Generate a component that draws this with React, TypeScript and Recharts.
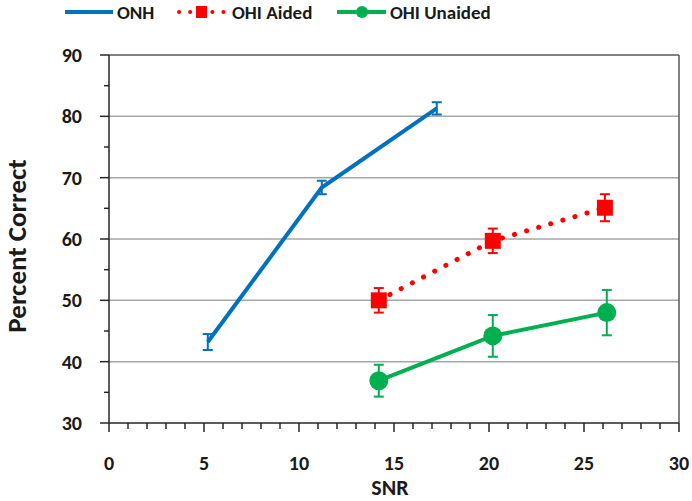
import React from 'react';
import { LineChart, Line, XAxis, YAxis, ErrorBar, ReferenceLine, Legend } from 'recharts';

const onhSnr = [5.2, 11.2, 17.25];
const onhPct = [43.2, 68.4, 81.3];
const onhErr = [1.3, 1.1, 1.0];

const aidedSnr = [14.2, 20.2, 26.1];
const aidedPct = [50.0, 59.7, 65.1];
const aidedErr = [2.0, 2.0, 2.2];

const unaidedSnr = [14.2, 20.2, 26.2];
const unaidedPct = [36.9, 44.2, 48.0];
const unaidedErr = [2.6, 3.4, 3.7];

const xTicks = [0, 1, 2, 3, 4, 5, 6, 7, 8, 9, 10, 11, 12, 13, 14, 15, 16, 17, 18, 19, 20, 21, 22, 23, 24, 25, 26, 27, 28, 29, 30];
const yTicks = [30, 35, 40, 45, 50, 55, 60, 65, 70, 75, 80, 85, 90];
const gridValues = [40, 50, 60, 70, 80];

const seriesNames = ['ONH', 'OHI Aided', 'OHI Unaided'];

const build = (xs: number[], ys: number[], es: number[]) =>
  xs.map((x, i) => ({ x, y: ys[i], err: es[i] }));

const onhData = build(onhSnr, onhPct, onhErr);
const aidedData = build(aidedSnr, aidedPct, aidedErr);
const unaidedData = build(unaidedSnr, unaidedPct, unaidedErr);

const FONT = 'Carlito, Calibri, Lato, sans-serif';
const BLUE = '#0070C0';
const RED = '#FF0000';
const GREEN = '#00B050';
const AXIS = '#262626';

const XTick = (props: any) => {
  const { x, y, payload } = props;
  const v = payload.value;
  const major = v % 5 === 0;
  return (
    <g>
      <line x1={x} y1={y} x2={x} y2={y + (major ? 9 : 6)} stroke={AXIS} strokeWidth={1.5} />
      {major && (
        <text x={x} y={y + 47} textAnchor="middle" fontFamily={FONT} fontWeight="bold" fontSize={20} fill="#1a1a1a">
          {v}
        </text>
      )}
    </g>
  );
};

const YTick = (props: any) => {
  const { x, y, payload } = props;
  const v = payload.value;
  const major = v % 10 === 0;
  return (
    <g>
      <line x1={x - (major ? 9 : 5)} y1={y} x2={x} y2={y} stroke={AXIS} strokeWidth={1.5} />
      {major && (
        <text x={x - 27} y={y + 7} textAnchor="end" fontFamily={FONT} fontWeight="bold" fontSize={20} fill="#1a1a1a">
          {v}
        </text>
      )}
    </g>
  );
};

const SquareDot = (props: any) => {
  const { cx, cy } = props;
  if (cx == null || cy == null) return null;
  return <rect x={cx - 8} y={cy - 8} width={16} height={16} fill={RED} />;
};

const CircleDot = (props: any) => {
  const { cx, cy } = props;
  if (cx == null || cy == null) return null;
  return <circle cx={cx} cy={cy} r={9.5} fill={GREEN} />;
};

const renderLegend = () => (
  <svg width={692} height={26} style={{ display: 'block' }}>
    <line x1={65} y1={12} x2={113} y2={12} stroke={BLUE} strokeWidth={4} />
    <text x={117} y={19} fontFamily={FONT} fontWeight="bold" fontSize={19} fill="#1a1a1a">{seriesNames[0]}</text>
    <line x1={179} y1={12} x2={225} y2={12} stroke={RED} strokeWidth={4} strokeDasharray="0.1 11" strokeLinecap="round" />
    <rect x={196} y={6} width={11} height={12} fill={RED} />
    <text x={232} y={19} fontFamily={FONT} fontWeight="bold" fontSize={19} fill="#1a1a1a">{seriesNames[1]}</text>
    <line x1={337} y1={12} x2={386} y2={12} stroke={GREEN} strokeWidth={4} />
    <circle cx={362} cy={12} r={6} fill={GREEN} />
    <text x={390} y={19} fontFamily={FONT} fontWeight="bold" fontSize={19} fill="#1a1a1a">{seriesNames[2]}</text>
  </svg>
);

export default function App() {
  return (
    <div style={{ position: 'absolute', left: 0, top: 0, width: 692, height: 501, background: '#fff' }}>
      <LineChart width={692} height={501} margin={{ top: 29, right: 13, bottom: 0, left: 0 }}>
        <Legend verticalAlign="top" align="left" content={renderLegend} wrapperStyle={{ top: 0, left: 0, width: 692, height: 26 }} />
        <XAxis
          type="number"
          dataKey="x"
          domain={[0, 30]}
          ticks={xTicks}
          interval={0}
          height={78}
          tickSize={0}
          tickMargin={0}
          tickLine={false}
          tick={<XTick />}
          axisLine={{ stroke: AXIS, strokeWidth: 1.5 }}
        />
        <YAxis
          type="number"
          domain={[30, 90]}
          ticks={yTicks}
          interval={0}
          width={109}
          tickSize={0}
          tickMargin={0}
          tickLine={false}
          tick={<YTick />}
          axisLine={{ stroke: AXIS, strokeWidth: 1.5 }}
        />
        {gridValues.map((v) => (
          <ReferenceLine key={v} y={v} stroke="#A6A6A6" strokeWidth={1.5} />
        ))}
        <ReferenceLine y={90} stroke="#595959" strokeWidth={1.5} />
        <ReferenceLine x={30} stroke="#595959" strokeWidth={1.5} />
        <Line
          data={onhData}
          dataKey="y"
          name={seriesNames[0]}
          stroke={BLUE}
          strokeWidth={4}
          dot={false}
          isAnimationActive={false}
        >
          <ErrorBar dataKey="err" direction="y" width={5} stroke={BLUE} strokeWidth={2} />
        </Line>
        <Line
          data={aidedData}
          dataKey="y"
          name={seriesNames[1]}
          stroke={RED}
          strokeWidth={5}
          strokeDasharray="0.1 12.5"
          strokeLinecap="round"
          dot={<SquareDot />}
          isAnimationActive={false}
        >
          <ErrorBar dataKey="err" direction="y" width={5} stroke={RED} strokeWidth={2} />
        </Line>
        <Line
          data={unaidedData}
          dataKey="y"
          name={seriesNames[2]}
          stroke={GREEN}
          strokeWidth={4}
          dot={<CircleDot />}
          isAnimationActive={false}
        >
          <ErrorBar dataKey="err" direction="y" width={5} stroke={GREEN} strokeWidth={2} />
        </Line>
      </LineChart>
      <svg width={692} height={501} style={{ position: 'absolute', left: 0, top: 0, pointerEvents: 'none' }}>
        <text x={390} y={495} textAnchor="middle" fontFamily={FONT} fontWeight="bold" fontSize={22} fill="#1a1a1a">SNR</text>
        <text
          x={0}
          y={0}
          transform="translate(26 246) rotate(-90)"
          textAnchor="middle"
          fontFamily={FONT}
          fontWeight="bold"
          fontSize={27}
          fill="#1a1a1a"
        >
          Percent Correct
        </text>
      </svg>
    </div>
  );
}
